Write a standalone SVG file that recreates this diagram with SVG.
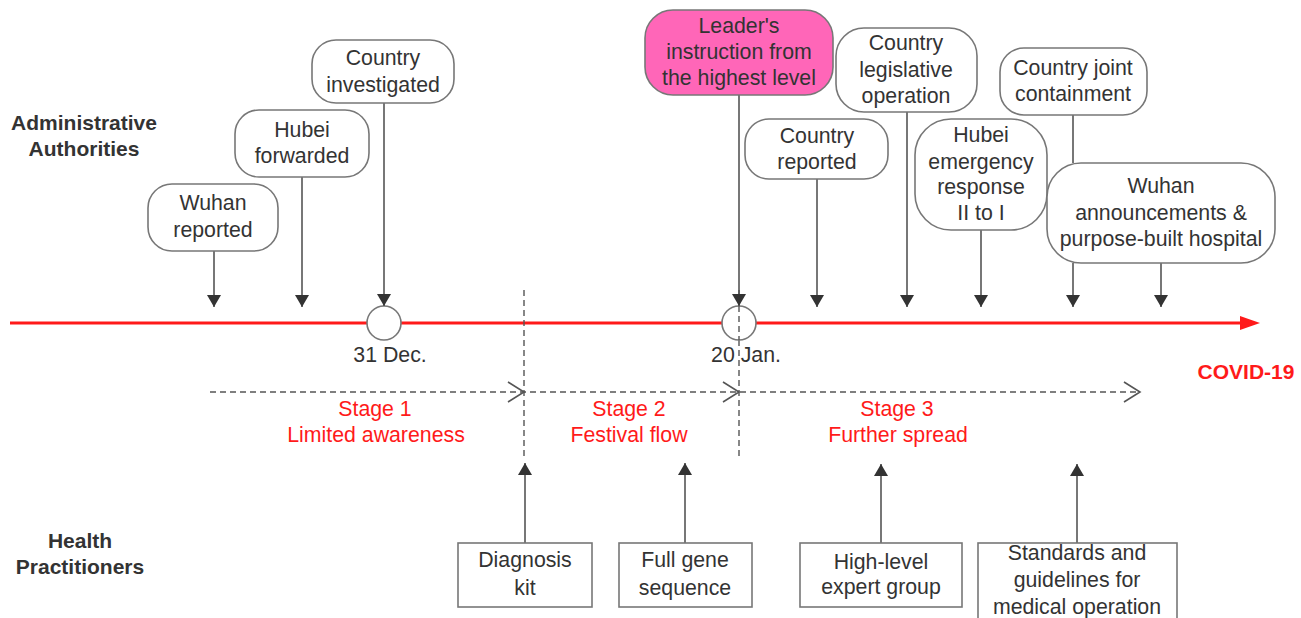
<svg xmlns="http://www.w3.org/2000/svg" width="1301" height="618" viewBox="0 0 1301 618">
<defs>
<style>
text{font-family:"Liberation Sans",Arial,sans-serif;font-size:21.3px;fill:#333;text-anchor:middle}
.lbl{font-weight:bold;font-size:21px}
.red{fill:#ff1a1a}
.node{fill:#fff;stroke:#777;stroke-width:1.6}
.conn{stroke:#555;stroke-width:1.6;fill:none}
.dash{stroke:#555;stroke-width:1.4;stroke-dasharray:6,4;fill:none}
.chev{stroke:#555;stroke-width:1.6;fill:none}
</style>
<marker id="ah" viewBox="0 0 12 16" refX="12" refY="8" markerWidth="12" markerHeight="16" markerUnits="userSpaceOnUse" orient="auto">
<path d="M0,1 L12,8 L0,15 Z" fill="#333"/>
</marker>
</defs>
<rect width="1301" height="618" fill="#fff"/>

<g id="labels">
<text class="lbl" x="84" y="130">Administrative</text>
<text class="lbl" x="84" y="156">Authorities</text>
<text class="lbl" x="80" y="548">Health</text>
<text class="lbl" x="80" y="574">Practitioners</text>
<text class="lbl red" x="1246" y="379">COVID-19</text>
</g>

<g id="timeline">
<line x1="10" y1="323" x2="1242" y2="323" stroke="#ff1a1a" stroke-width="2.8"/>
<path d="M1240,316 L1260,323 L1240,330 Z" fill="#ff1a1a"/>
<line class="dash" x1="524" y1="290" x2="524" y2="460"/>
<line class="dash" x1="739" y1="290" x2="739" y2="458"/>
<circle cx="384" cy="323" r="17" fill="#fff" stroke="#777" stroke-width="1.6"/>
<circle cx="739" cy="323" r="17" fill="#fff" stroke="#777" stroke-width="1.6"/>
<line class="dash" x1="739" y1="306" x2="739" y2="340"/>
<text x="390" y="362">31 Dec.</text>
<text x="746" y="362">20 Jan.</text>
<line class="dash" x1="210" y1="392" x2="1140" y2="392"/>
<path class="chev" d="M508,382 L524,392 L508,402"/>
<path class="chev" d="M723,382 L739,392 L723,402"/>
<path class="chev" d="M1124,382 L1140,392 L1124,402"/>
<text class="red" x="375" y="416">Stage 1</text>
<text class="red" x="376" y="442">Limited awareness</text>
<text class="red" x="629" y="416">Stage 2</text>
<text class="red" x="629" y="442">Festival flow</text>
<text class="red" x="897" y="416">Stage 3</text>
<text class="red" x="898" y="442">Further spread</text>
</g>

<g id="connectors">
<line class="conn" x1="214" y1="251" x2="214" y2="307" marker-end="url(#ah)"/>
<line class="conn" x1="302" y1="177" x2="302" y2="307" marker-end="url(#ah)"/>
<line class="conn" x1="384" y1="103" x2="384" y2="306" marker-end="url(#ah)"/>
<line class="conn" x1="739" y1="95" x2="739" y2="306" marker-end="url(#ah)"/>
<line class="conn" x1="817" y1="179" x2="817" y2="307" marker-end="url(#ah)"/>
<line class="conn" x1="907" y1="112" x2="907" y2="307" marker-end="url(#ah)"/>
<line class="conn" x1="981" y1="230" x2="981" y2="307" marker-end="url(#ah)"/>
<line class="conn" x1="1073" y1="115" x2="1073" y2="163"/>
<line class="conn" x1="1073" y1="263" x2="1073" y2="307" marker-end="url(#ah)"/>
<line class="conn" x1="1161" y1="263" x2="1161" y2="307" marker-end="url(#ah)"/>
<line class="conn" x1="525" y1="543" x2="525" y2="463" marker-end="url(#ah)"/>
<line class="conn" x1="685" y1="543" x2="685" y2="463" marker-end="url(#ah)"/>
<line class="conn" x1="881" y1="543" x2="881" y2="464" marker-end="url(#ah)"/>
<line class="conn" x1="1077" y1="543" x2="1077" y2="464" marker-end="url(#ah)"/>
</g>

<g id="wuhan-reported">
<rect class="node" x="148" y="184" width="130" height="67" rx="24"/>
<text x="213" y="210">Wuhan</text>
<text x="213" y="237">reported</text>
</g>
<g id="hubei-forwarded">
<rect class="node" x="235" y="110" width="134" height="67" rx="24"/>
<text x="302" y="137">Hubei</text>
<text x="302" y="163">forwarded</text>
</g>
<g id="country-investigated">
<rect class="node" x="312" y="40" width="142" height="63" rx="24"/>
<text x="383" y="65">Country</text>
<text x="383" y="92">investigated</text>
</g>
<g id="leader">
<rect x="645" y="10" width="188" height="85" rx="28" fill="#ff66b8" stroke="#777" stroke-width="1.6"/>
<text x="739" y="33">Leader's</text>
<text x="739" y="59">instruction from</text>
<text x="739" y="85">the highest level</text>
</g>
<g id="country-reported">
<rect class="node" x="745" y="119" width="143" height="60" rx="24"/>
<text x="817" y="143">Country</text>
<text x="817" y="169">reported</text>
</g>
<g id="country-legislative">
<rect class="node" x="836" y="28" width="141" height="84" rx="28"/>
<text x="906" y="50">Country</text>
<text x="906" y="77">legislative</text>
<text x="906" y="103">operation</text>
</g>
<g id="hubei-emergency">
<rect class="node" x="915" y="119" width="132" height="111" rx="36"/>
<text x="981" y="142">Hubei</text>
<text x="981" y="169">emergency</text>
<text x="981" y="194">response</text>
<text x="981" y="220">II to I</text>
</g>
<g id="country-joint">
<rect class="node" x="1000" y="48" width="147" height="67" rx="24"/>
<text x="1073" y="75">Country joint</text>
<text x="1073" y="101">containment</text>
</g>
<g id="wuhan-announcements">
<rect class="node" x="1047" y="163" width="228" height="100" rx="34"/>
<text x="1161" y="193">Wuhan</text>
<text x="1161" y="220">announcements &amp;</text>
<text x="1161" y="246">purpose-built hospital</text>
</g>

<g id="diagnosis-kit">
<rect class="node" x="458" y="543" width="134" height="64"/>
<text x="525" y="567">Diagnosis</text>
<text x="525" y="595">kit</text>
</g>
<g id="full-gene">
<rect class="node" x="619" y="543" width="133" height="64"/>
<text x="685" y="567">Full gene</text>
<text x="685" y="595">sequence</text>
</g>
<g id="expert-group">
<rect class="node" x="800" y="543" width="162" height="64"/>
<text x="881" y="569">High-level</text>
<text x="881" y="594">expert group</text>
</g>
<g id="standards">
<rect class="node" x="978" y="543" width="199" height="80"/>
<text x="1077" y="560">Standards and</text>
<text x="1077" y="587">guidelines for</text>
<text x="1077" y="614">medical operation</text>
</g>
</svg>
